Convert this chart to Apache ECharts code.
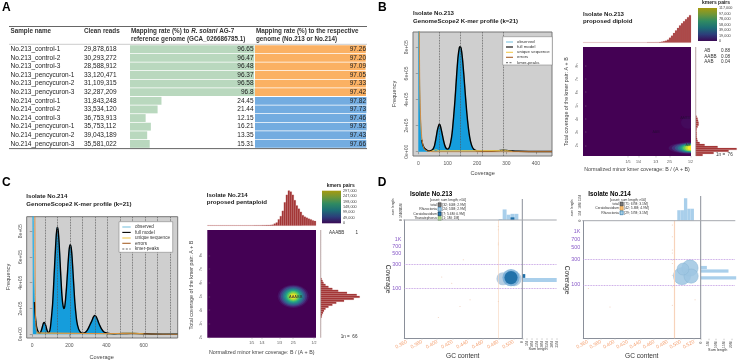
<!DOCTYPE html>
<html><head><meta charset="utf-8">
<script src="https://cdn.jsdelivr.net/npm/echarts@6/dist/echarts.min.js"></script>
<style>html,body{margin:0;background:#fff}#c{width:738px;height:362px}</style></head>
<body><div id="c"></div>
<script>
// ---------- Panel A
const sampleNames=['No.213_control-1','No.213_control-2','No.213_control-3','No.213_pencycuron-1','No.213_pencycuron-2','No.213_pencycuron-3','No.214_control-1','No.214_control-2','No.214_control-3','No.214_pencycuron-1','No.214_pencycuron-2','No.214_pencycuron-3'];
const cleanReads=['29,878,618','30,293,272','28,588,912','33,120,471','31,109,315','32,287,209','31,843,248','33,534,120','36,753,913','35,753,112','39,043,189','35,581,022'];
const rateReference=['96.65','96.47','96.48','96.37','96.58','96.8','24.45','21.44','12.15','16.21','13.35','15.31'];
const rateRespective=['97.26','97.20','97.09','97.05','97.33','97.42','97.82','97.73','97.46','97.92','97.43','97.66'];
// ---------- Panel B k-mer profile
const covB=[0,2,4,6,8,10,12,15,20,25,30,35,40,45,50,55,60,65,70,72,75,80,85,90,95,100,105,110,115,120,125,130,135,140,143,146,150,155,160,165,170,175,180,185,190,195,200,210,220,240,260,280,290,300,320,340,400,455];
const observedB=[2000000,1200000,600000,350000,220000,140000,90000,55000,30000,18000,10000,6000,6000,10000,20000,45000,100000,165000,205000,210000,200000,150000,95000,50000,25000,20000,30000,70000,140000,260000,400000,570000,720000,800000,805000,790000,720000,590000,440000,300000,190000,110000,60000,30000,16000,10000,6000,4000,3000,3000,5000,10000,12000,10000,5000,3000,1000,1000];
const covUniqueB=[40,50,60,70,280,290,300,320];
const uniqueB=[0,8000,15000,8000,9000,12000,9000,2000];
const covErrorsB=[0,3,5,8,12,16,20,30,50,100,455];
const errorsB=[3000000,1000000,500000,250000,100000,50000,20000,5000,0,0,0];
const peaksB=[71,143,218,289];
const freqTicks=[0,200000,400000,600000,800000];
const covTicksB=[0,100,200,300,400];
// ---------- Panel C k-mer profile
const covC=[0,3,6,9,12,15,20,25,30,35,40,45,50,55,60,65,70,75,80,85,90,95,100,110,120,125,130,135,140,145,150,155,160,165,170,175,180,185,190,195,200,205,210,215,220,225,230,240,250,260,270,280,290,300,310,320,330,337,345,355,365,375,385,395,405,420,440,470,500,540,600,700,784];
const observedC=[3000000,1500000,700000,400000,250000,170000,90000,45000,25000,12000,10000,15000,35000,60000,85000,92000,80000,55000,30000,15000,15000,30000,80000,240000,520000,660000,780000,830000,800000,700000,560000,420000,300000,230000,200000,215000,280000,370000,480000,590000,670000,695000,670000,590000,470000,350000,240000,100000,40000,15000,8000,10000,20000,40000,70000,100000,135000,145000,135000,100000,65000,38000,20000,12000,8000,5000,4000,5000,6000,7000,4000,1000,1000];
const covUniqueC=[20,30,40,420,470,540,600];
const uniqueC=[9000,16000,9000,4000,7000,9000,4000];
const covErrorsC=[8,12,14,16,18,22,30,40,784];
const errorsC=[3000000,1500000,900000,300000,100000,30000,10000,0,0];
const peaksC=[68,135,203,270,338,405,473,540,608,676,743];
const covTicksC=[0,200,400,600];
// ---------- Smudge plots: contour levels [minor-cov, total-cov, half-width, half-height, kmer pairs]
const smudgeB=[[0.49,3.7,0.035,0.45,3000],[0.5,1.8,0.105,0.44,6000],[0.5,1.8,0.09,0.4,16000],[0.5,1.8,0.075,0.36,30000],[0.5,1.8,0.062,0.33,45000],[0.5,1.8,0.052,0.3,60000],[0.5,1.8,0.043,0.27,75000],[0.5,1.8,0.035,0.24,90000],[0.5,1.8,0.025,0.2,105000],[0.5,1.8,0.014,0.15,117000]];
const smudgeC=[[0.4,5,0.075,0.85,15000],[0.4,5,0.067,0.77,40000],[0.4,5,0.059,0.69,75000],[0.4,5,0.051,0.61,110000],[0.4,5,0.044,0.53,145000],[0.4,5,0.037,0.45,180000],[0.4,5,0.03,0.38,215000],[0.4,5,0.023,0.3,250000],[0.4,5,0.016,0.21,280000],[0.4,5,0.009,0.12,297000]];
const colourLabelsB=[0,19000,39000,58000,78000,97000,117000];
const colourLabelsC=[0,49000,99000,148000,198000,247000,297000];
const smudgeTopB=[0.4,0.4,0.4,0.4,0.4,0.4,0.4,0.4,0.4,0.4,0.4,0.4,0.4,0.4,0.4,0.4,0.4,0.4,0.4,0.4,0.4,0.4,0.4,0.4,0.4,0.4,0.4,0.4,0.4,0.4,0.4,0.4,0.5,0.5,0.5,0.5,0.6,0.6,0.7,1,1.5,2,3,5,7,9.5,12,14.5,17,19,21,23,25,27];
const smudgeSideB=[0,0,0,0,0,0,0,0,0,0,0,0,0,0,0,0,0,0,0,0,0,0,0,0,0,0,0,0,0,0,0,0,0,0,1,2,2.5,3,3,2,1,0.8,1,1,1,1.5,2,4,9,22,41,33,18,7];
const smudgeTopC=[0.4,0.4,0.4,0.4,0.4,0.4,0.4,0.4,0.4,0.4,0.4,0.4,0.4,0.4,0.4,0.4,0.4,0.4,0.4,0.4,0.4,0.4,0.4,0.5,0.5,0.5,0.5,0.6,0.6,0.7,0.7,0.8,1,2,3,6,9,14,22,29,33,32,29,24,19,16,13,10,8.5,7.5,6.5,6,5,4.5];
const smudgeSideC=[0,0,0,0,0,0,0,0,0,0,0,0,0,0,0,0,0,0,0,0,0,0,0,0,1,2,3,5,8,12,18,27,37,40,34,24,16,12,8,5,3.5,2.5,1.5,1,0,0,0,0,0,0,0,0,0,0];
const smudgeMinorTicks=[0.2,0.25,1/3,0.4,0.5];
const smudgeMinorLabels=['1/5','1/4','1/3','2/5','1/2'];
const smudgeTotalTicks=[2,3,4,5,6,7,8];
const smudgeTotalLabels=['2n','3n','4n','5n','6n','7n','8n'];
const proportionsB=[['AB','0.88'],['AABB','0.08'],['AAB','0.04']];
const proportionsC=[['AAABB','1']];
// ---------- Panel D blob plots: [GC, coverage, length Mb]
const gcTicks213=[0.36,0.38,0.40,0.42,0.44,0.46,0.48,0.50];
const gcTicks214=[0.36,0.38,0.40,0.42,0.44,0.46,0.48,0.50,0.52];
const coverageTicks=[100,300,500,700,1000];
const rhizo213=[[0.4862,155,17],[0.5006,155,22]];
const mid213=[[0.4966,164,29]];
const cerato213=[[0.4966,164,17]];
const dots213=[[0.48,1811],[0.48,1550],[0.48,830],[0.48,765],[0.48,53],[0.4342,378],[0.4059,168],[0.419,126],[0.4298,42],[0.443,58],[0.4014,25]];
const rhizo214=[[0.5018,146,29],[0.5138,207,26],[0.5155,146,20],[0.5033,198,14]];
const dots214=[[0.4872,1339],[0.4872,804],[0.4872,451],[0.4872,396],[0.4872,292],[0.4872,253],[0.4872,152],[0.4872,92],[0.4872,41],[0.361,85],[0.3935,38],[0.5214,52]];
const topHist213=[0,0,0,0,0,0,0,0,0,0,0,0,0,0,0,0,0,0,0,0,0,0,0,0,1,12,6,7,7,0];
const topHistDark213=[0,0,0,0,0,0,0,0,0,0,0,0,0,0,0,0,0,0,0,0,0,0,0,0,0,0,0,3,0,0];
const sideHist213=[0,0,0,0,0,0,0,0,0,0,0,0,0,0,0,35,0,0,0,0,0,0,0,0,0,0,0,0,0,0];
const sideHistDark213=[0,0,0,0,0,0,0,0,0,0,0,0,0,0,3,0,0,0,0,0,0,0,0,0,0,0,0,0,0,0];
const topHist214=[0,0,0,0,0,0,0,0,0,0,0,0,0,0,0,0,0,0,0,0,0,0,0,0,0,0,0,0,7,7,15,8,8,0,0];
const sideHist214=[0,0,0,0,0,0,0,0,0,0,0,0,0,4,18,0,23,0,0,0,0,0,0,0,0,0,0,0,0,0,0,0,0,0];
const topTicks213=[0,5,10,15,20];
const sideTicks213=[0,5,10,15,20,25,30,35];
const topTicks214=[0,5,10,15];
const sideTicks214=[0,5,10,15,20];
const legendRows213=[['total','[32; 60M; 2.9M]'],['Rhizoctonia','[24; 53M; 2.9M]'],['Ceratobasidium','[7; 5.6M; 0.9M]'],['Thanatephorus','[1; 1M; 1M]']];
const legendRows214=[['total','[71; 67M; 3.1M]'],['Ceratobasidium','[42; 5.8M; 4.9M]'],['Rhizoctonia','[29; 57M; 3.1M]']];
const profileLegend=['observed','full model','unique sequence','errors','kmer-peaks'];

const FONT='"Liberation Sans",Arial,sans-serif';
const pair=(a,b)=>a.map((v,i)=>[v,b[i]]);
const viridis=['#440154','#46327e','#365c8d','#277f8e','#1fa187','#4ac16d','#a0da39','#fde725'];
const barStops=['#3a0a55','#2c3e7a','#1d6e75','#2f8a62','#6e9638','#a69a10'];

const grids=[],xAxes=[],yAxes=[],series=[],graphic=[];
function addAxes(g,x,y){const i=grids.length;grids.push(Object.assign({outerBoundsMode:'none'},g));
  const xs=[].concat(x),ys=[].concat(y);
  const xi=xAxes.length;xs.forEach(a=>xAxes.push(Object.assign({gridIndex:i},a)));
  const yi=yAxes.length;ys.forEach(a=>yAxes.push(Object.assign({gridIndex:i},a)));
  return {x:xi,y:yi};}
const hidden={show:false};
function text(t,x,y,o={}){graphic.push({type:'text',x,y,rotation:o.rot||0,z:100,style:{text:t,fill:o.color||'#222',
  font:`${o.style||''} ${o.weight||'normal'} ${o.size||6}px ${FONT}`,align:o.align||'left',verticalAlign:'middle',rich:o.rich}});}
function line(x1,y1,x2,y2,c='#555',w=.8,dash){graphic.push({type:'line',z:100,shape:{x1,y1,x2,y2},style:{stroke:c,lineWidth:w,lineDash:dash}});}
function rect(x,y,w,h,fill,stroke,lw=.6){graphic.push({type:'rect',z:99,shape:{x,y,width:w,height:h},style:{fill,stroke,lineWidth:lw}});}

// ===== Panel A =====
text('A',2,8,{size:12,weight:'bold',color:'#000'});
const catAxis=(labels)=>({type:'category',inverse:true,z:20,data:labels,axisLine:hidden,axisTick:hidden,axisLabel:{show:false}});
const tLabel={show:true,interval:0,fontFamily:FONT,fontSize:6.5,color:'#222'};
const aL=addAxes({left:130,top:44.8,width:124.6,height:103.4},{type:'value',min:0,max:96.8,show:false},
 [Object.assign(catAxis(sampleNames),{position:'left',axisLabel:Object.assign({},tLabel,{align:'left',margin:119.5})}),
  Object.assign(catAxis(cleanReads),{position:'left',axisLabel:Object.assign({},tLabel,{align:'left',margin:46})}),
  Object.assign(catAxis(rateReference),{position:'right',axisLabel:Object.assign({},tLabel,{inside:true,margin:1})})]);
series.push({type:'bar',xAxisIndex:aL.x,yAxisIndex:aL.y,silent:true,barCategoryGap:'9%',data:rateReference.map(Number),itemStyle:{color:'#b9d8be'}});
const aR=addAxes({left:255,top:44.8,width:112,height:103.4},{type:'value',min:0,max:98.3,show:false},
 Object.assign(catAxis(rateRespective),{position:'right',axisLabel:Object.assign({},tLabel,{inside:true,margin:1})}));
series.push({type:'bar',xAxisIndex:aR.x,yAxisIndex:aR.y,silent:true,barCategoryGap:'9%',data:rateRespective.map(Number),
  itemStyle:{color:p=>p.dataIndex<6?'#fbb163':'#73ace0'}});
line(9,26.5,367,26.5,'#555',.9);line(9,44.3,367,44.3,'#999',.5);line(9,148.6,367,148.6,'#555',.9);
const hb={size:6.3,weight:'bold',color:'#333'};
text('Sample name',10.5,31,hb);text('Clean reads',84,31,hb);
text('Mapping rate (%) to {i|R. solani} AG-7',131,31,Object.assign({rich:{i:{font:`italic bold 6.3px ${FONT}`,fill:'#333'}}},hb));
text('reference genome (GCA_026686785.1)',131,39.7,hb);
text('Mapping rate (%) to the respective',256,31,hb);text('genome (No.213 or No.214)',256,39.7,hb);

// ===== k-mer profile panels =====
function profile(g,xr,yr,cov,obs,covU,uni,covE,err,peaks,xTicks,bandColor){
  const tl={fontFamily:FONT,fontSize:5,color:'#555'};
  const a=addAxes(Object.assign({show:true,backgroundColor:'#cfcfcf',borderColor:'#777',borderWidth:1},g),
   {type:'value',min:xr[0],max:xr[1],splitLine:hidden,axisLine:hidden,
    axisTick:{show:true,length:2.5,lineStyle:{color:'#777',width:.6},customValues:xTicks},axisLabel:Object.assign({customValues:xTicks,margin:5},tl)},
   {type:'value',min:yr[0],max:yr[1],splitLine:hidden,axisLine:hidden,
    axisTick:{show:true,length:2.5,lineStyle:{color:'#777',width:.6},customValues:freqTicks},
    axisLabel:Object.assign({customValues:freqTicks,margin:4,rotate:90,formatter:v=>v===0?'0e+00':(v/100000)+'e+05'},tl)});
  const o={xAxisIndex:a.x,yAxisIndex:a.y,silent:true,showSymbol:false,symbol:'none',type:'line',clip:true,animation:false};
  series.push(Object.assign({},o,{data:pair(cov,obs),smooth:.25,lineStyle:{color:bandColor,width:1},areaStyle:{color:'#159ddc',opacity:1},
    markLine:{silent:true,symbol:'none',label:hidden,animation:false,lineStyle:{color:'#555',type:'dotted',width:.8},data:peaks.map(v=>({xAxis:v}))}}));
  series.push(Object.assign({},o,{data:pair(cov,obs).filter(p=>p[0]>=12),smooth:.25,lineStyle:{color:'#000',width:1.4}}));
  series.push(Object.assign({},o,{data:pair(covU,uni),lineStyle:{color:'#f1c94f',width:.9}}));
  series.push(Object.assign({},o,{data:pair(covE,err),lineStyle:{color:'#d98a3c',width:.9}}));
}
function profileKey(x,y,w,h,lx1,lx2,tx,ys,size){
  rect(x,y,w,h,'#fff','#888');
  const st=[['#7fc3df',1.1],['#000',1.1],['#f1c94f',1.1],['#a8622a',1.1],['#555',.9,[2,1.5]]];
  profileLegend.forEach((t,i)=>{line(lx1,ys[i],lx2,ys[i],st[i][0],st[i][1],st[i][2]);text(t,tx,ys[i],{size,color:'#333'});});
}
text('B',378,8,{size:12,weight:'bold',color:'#000'});
text('Isolate No.213',413,13.5,{size:6.1,weight:'bold'});text('GenomeScope2 K-mer profile (k=21)',413,21,{size:6.1,weight:'bold'});
profile({left:413,top:32,width:139,height:124},[-18,455],[-33000,917000],covB,observedB,covUniqueB,uniqueB,covErrorsB,errorsB,peaksB,covTicksB,'#5f9fa5');
profileKey(502.7,36.7,49.6,28.3,506,513,517,[42,47,52.3,57.3,62.7],4.3);
text('Frequency',394.3,94,{rot:Math.PI/2,align:'center',size:5.6,color:'#444'});
text('Coverage',482.7,173.3,{align:'center',size:5.6,color:'#444'});

text('C',2,183,{size:12,weight:'bold',color:'#000'});
text('Isolate No.214',26.3,196.7,{size:6.1,weight:'bold'});text('GenomeScope2 K-mer profile (k=21)',26.3,204,{size:6.1,weight:'bold'});
profile({left:26.7,top:216.7,width:151,height:121.3},[-30,784],[-29000,912000],covC,observedC,covUniqueC,uniqueC,covErrorsC,errorsC,peaksC,covTicksC,'#2fb5ea');
profileKey(119,221.7,53.7,30.6,122.3,130.7,135,[227,232.4,238,243.3,249],4.6);
text('Frequency',8,277,{rot:Math.PI/2,align:'center',size:5.6,color:'#444'});
text('Coverage',101.7,357.3,{align:'center',size:5.6,color:'#444'});

// ===== Smudge panels =====
const visualMaps=[];
function smudge(p){
  const tl={fontFamily:FONT,fontSize:3.6,color:'#555'};
  const a=addAxes(Object.assign({show:true,backgroundColor:'#440154',borderWidth:0},p.g),
   {type:'value',min:p.xr[0],max:p.xr[1],splitLine:hidden,axisLine:hidden,axisTick:{show:true,length:1.5,lineStyle:{color:'#888',width:.4},customValues:smudgeMinorTicks},
    axisLabel:Object.assign({customValues:smudgeMinorTicks,margin:p.xm,formatter:v=>smudgeMinorLabels[smudgeMinorTicks.findIndex(t=>Math.abs(t-v)<1e-6)]},tl)},
   {type:'value',min:p.yr[0],max:p.yr[1],splitLine:hidden,axisLine:hidden,axisTick:{show:true,length:1.5,lineStyle:{color:'#888',width:.4},customValues:smudgeTotalTicks},
    axisLabel:Object.assign({customValues:smudgeTotalTicks,margin:4,rotate:90,formatter:v=>smudgeTotalLabels[smudgeTotalTicks.indexOf(v)]},tl)});
  visualMaps.push({show:false,type:'continuous',seriesIndex:series.length,dimension:4,min:0,max:p.cmax,inRange:{color:viridis}});
  series.push({type:'custom',xAxisIndex:a.x,yAxisIndex:a.y,silent:true,clip:true,animation:false,data:p.levels,
    encode:{x:0,y:1},renderItem:(params,api)=>{const c=api.coord([api.value(0),api.value(1)]),s=api.size([api.value(2),api.value(3)]);
      return {type:'ellipse',shape:{cx:c[0],cy:c[1],rx:s[0],ry:s[1]},style:{fill:api.visual('color')}};}});
  const barStyle={color:'#a23434',borderColor:'#b86060',borderWidth:.2};
  const t=addAxes(p.top,{type:'category',data:p.topData.map((_,i)=>i),show:false},{type:'value',min:0,max:p.topMax,show:false});
  series.push({type:'bar',xAxisIndex:t.x,yAxisIndex:t.y,silent:true,barCategoryGap:0,data:p.topData,itemStyle:barStyle});
  const r=addAxes(p.side,{type:'value',min:0,max:41,show:false},{type:'category',inverse:true,data:p.sideData.map((_,i)=>i),show:false});
  series.push({type:'bar',xAxisIndex:r.x,yAxisIndex:r.y,silent:true,barCategoryGap:0,data:p.sideData,itemStyle:barStyle});
  const b=addAxes(p.bar,{type:'category',data:['k'],show:false},
   {type:'value',position:'right',min:0,max:p.cmax,splitLine:hidden,axisLine:hidden,axisTick:hidden,
    axisLabel:{customValues:p.colourLabels,margin:2,fontFamily:FONT,fontSize:3.8,color:'#444'}});
  series.push({type:'bar',xAxisIndex:b.x,yAxisIndex:b.y,silent:true,barWidth:'100%',data:[p.cmax],
    itemStyle:{color:new echarts.graphic.LinearGradient(0,1,0,0,barStops.map((c,i)=>({offset:i/(barStops.length-1),color:c})))}});
}
smudge({g:{left:583,top:47,width:108,height:109},xr:[-0.0166,0.503],yr:[1.2,9.4],xm:4,cmax:117000,levels:smudgeB,
  top:{left:583,top:12,width:108,height:30.7},topData:smudgeTopB,topMax:30,
  side:{left:695.7,top:47,width:41,height:109},sideData:smudgeSideB,
  bar:{left:698,top:8,width:19,height:33},colourLabels:colourLabelsB});
line(695.7,47,695.7,156,'#999',.5);
text('Isolate No.213',583,14,{size:6.1,weight:'bold'});text('proposed diploid',583,21,{size:6.1,weight:'bold'});
text('kmers pairs',716,2.5,{size:5,weight:'bold',align:'center'});
proportionsB.forEach((r,i)=>{const y=50.7+i*5.7;text(r[0],704.3,y,{size:4.6,color:'#333'});text(r[1],730,y,{size:4.6,align:'right',color:'#333'});});
text('1n =  76',716,155,{size:4.6,color:'#333'});
text('Normalized minor kmer coverage: B / (A + B)',637,170,{size:5.3,align:'center',color:'#444'});
text('Total coverage of the kmer pair: A + B',566.7,101.7,{size:5.3,rot:Math.PI/2,align:'center',color:'#444'});
text('AB',688,145.3,{size:3.6,align:'center',color:'#333'});text('AABB',685,118,{size:3.6,align:'center',color:'#2a0a3a'});text('AAB',656,132,{size:3.6,align:'center',color:'#2a0a3a'});

smudge({g:{left:207.3,top:230,width:108.7,height:107.7},xr:[-0.0138,0.5096],yr:[1.97,9.85],xm:3,cmax:297000,levels:smudgeC,
  top:{left:207.3,top:190,width:108.7,height:35.7},topData:smudgeTopC,topMax:33.5,
  side:{left:320.7,top:230,width:40,height:107.7},sideData:smudgeSideC,
  bar:{left:322,top:190.7,width:19,height:32.6},colourLabels:colourLabelsC});
line(320.7,230,320.7,337.7,'#999',.5);
text('Isolate No.214',206.7,195.7,{size:6.1,weight:'bold'});text('proposed pentaploid',206.7,202.7,{size:6.1,weight:'bold'});
text('kmers pairs',340.7,185.3,{size:5,weight:'bold',align:'center'});
proportionsC.forEach(r=>{text(r[0],329,233,{size:4.6,color:'#333'});text(r[1],358,233,{size:4.6,align:'right',color:'#333'});});
text('1n =  66',340.7,336.7,{size:4.6,color:'#333'});
text('Normalized minor kmer coverage: B / (A + B)',261.7,353,{size:5.3,align:'center',color:'#444'});
text('Total coverage of the kmer pair: A + B',191.7,285,{size:5.3,rot:Math.PI/2,align:'center',color:'#444'});
text('AAABB',295.7,296.7,{size:4,align:'center',color:'#333'});

// ===== Blob panels =====
const fmtCov=v=>v>=1000?(v/1000)+'K':String(v);
function blob(p){
  const m=addAxes(p.main,
   {type:'value',min:p.xr[0],max:p.xr[1],splitLine:hidden,axisLine:{show:true,onZero:false,lineStyle:{color:'#8a8f99',width:1}},
    axisTick:{show:true,length:1.5,lineStyle:{color:'#bbb',width:.4},customValues:p.gcTicks},
    axisLabel:{customValues:p.gcTicks,rotate:30,margin:3,fontFamily:FONT,fontSize:5,color:'#f4a070',formatter:v=>v.toFixed(3)}},
   {type:'log',min:p.yr[0],max:p.yr[1],splitLine:hidden,axisLine:{show:true,onZero:false,lineStyle:{color:'#8a8f99',width:1}},
    axisTick:hidden,axisLabel:{customValues:coverageTicks,margin:3,fontFamily:FONT,fontSize:5.4,color:'#8a5cc8',formatter:fmtCov}});
  const sc={type:'scatter',xAxisIndex:m.x,yAxisIndex:m.y,silent:true,clip:true,animation:false};
  const size=d=>3.2*Math.sqrt(d[2]);
  p.bubbles.forEach(b=>series.push(Object.assign({},sc,{data:b.data,symbolSize:size,itemStyle:{color:b.color,opacity:b.opacity,borderColor:b.border,borderWidth:b.border?.5:0}})));
  series.push(Object.assign({},sc,{data:p.dots,symbolSize:1,itemStyle:{color:'#e8b798',opacity:.75},
    markLine:{silent:true,symbol:'none',label:hidden,animation:false,lineStyle:{color:'#f7d3bb',type:'solid',width:p.bandWidth},data:[{xAxis:p.bandX}]}}));
  const ov=addAxes({left:p.main.left,top:p.main.top,width:p.ovWidth,height:p.main.height},{type:'value',min:0,max:1,show:false},{type:'log',min:p.yr[0],max:p.yr[1],show:false});
  series.push({type:'line',xAxisIndex:ov.x,yAxisIndex:ov.y,data:[],silent:true,
    markLine:{silent:true,symbol:'none',label:hidden,animation:false,lineStyle:{color:'#b283dc',type:'dotted',width:.8},data:[{yAxis:100},{yAxis:300}]}});
  const tt=addAxes(p.top,{type:'category',data:p.topHist.map((_,i)=>i),show:false},
   {type:'value',min:0,max:p.topMax,splitLine:hidden,axisLine:hidden,axisTick:hidden,
    axisLabel:{customValues:p.topTicks,margin:2,rotate:90,fontFamily:FONT,fontSize:3.2,color:'#555',formatter:v=>v?v+'M':'0'}});
  series.push({type:'bar',xAxisIndex:tt.x,yAxisIndex:tt.y,silent:true,barCategoryGap:0,barGap:'-100%',data:p.topHist,itemStyle:{color:'#a9cfeb'}});
  if(p.topDark)series.push({type:'bar',xAxisIndex:tt.x,yAxisIndex:tt.y,silent:true,barCategoryGap:0,barGap:'-100%',data:p.topDark,itemStyle:{color:'#1f6fa8'}});
  const ss=addAxes(p.side,{type:'value',min:0,max:p.sideMax,splitLine:hidden,axisLine:hidden,
     axisTick:{show:true,length:1.5,lineStyle:{color:'#777',width:.4},customValues:p.sideTicks},
     axisLabel:{customValues:p.sideTicks,margin:3,rotate:90,fontFamily:FONT,fontSize:3.2,color:'#555',formatter:v=>v?v+'M':'0'}},
   {type:'category',inverse:true,data:p.sideHist.map((_,i)=>i),show:false});
  series.push({type:'bar',xAxisIndex:ss.x,yAxisIndex:ss.y,silent:true,barCategoryGap:'6%',barGap:'-100%',data:p.sideHist,itemStyle:{color:'#a9cfeb'}});
  if(p.sideDark)series.push({type:'bar',xAxisIndex:ss.x,yAxisIndex:ss.y,silent:true,barCategoryGap:'6%',barGap:'-100%',data:p.sideDark,itemStyle:{color:'#1f6fa8'}});
  line(p.main.left+p.main.width,p.vTop,p.main.left+p.main.width,p.main.top+p.main.height,'#8a8f99',1);
  line(p.main.left-1,p.main.top,p.main.left+p.ovWidth,p.main.top,'#a5a8ae',1);
}
text('D',377.7,182.7,{size:12,weight:'bold',color:'#000'});
blob({main:{left:404.3,top:220,width:118,height:118.3},xr:[0.3569,0.5114],yr:[9.4,2460],gcTicks:gcTicks213,
  bubbles:[{data:rhizo213,color:'#a9c6de',opacity:.85},{data:mid213,color:'#6fa9d4',opacity:.8},{data:cerato213,color:'#1f6fa8',opacity:.95}],
  dots:dots213,bandX:0.48,bandWidth:.6,ovWidth:152.4,vTop:199,
  top:{left:404.3,top:200,width:118,height:20},topHist:topHist213,topDark:topHistDark213,topMax:22.7,topTicks:topTicks213,
  side:{left:522.3,top:217.7,width:34.4,height:120.6},sideHist:sideHist213,sideDark:sideHistDark213,sideMax:35,sideTicks:sideTicks213});
text('Isolate No.213',410,194.3,{size:6.3,weight:'bold',color:'#000'});
text('GC content',462.7,356,{size:6.6,align:'center',color:'#333'});
text('Coverage',388.3,279,{size:6.6,align:'center',rot:-Math.PI/2,color:'#333'});
text('Sum length',538,349.3,{size:3.8,align:'center',color:'#333'});
text('sum length',393,207,{size:3.4,align:'center',rot:Math.PI/2,color:'#444'});
function blobKey(rows,cols,sx,header,hx,y0,dy){
  text(header,hx,y0-dy,{size:3.4,align:'center',color:'#333'});
  rows.forEach((r,i)=>{const y=y0+i*dy;
    text(r[0],sx-1,y,{size:3.4,align:'right',color:'#333'});
    rect(sx,y-1.9,3.2,3.8,cols[i][0],cols[i][1],.6);
    text(r[1],sx+4.2,y,{size:3.4,color:'#333'});});
}
blobKey(legendRows213,[['#777','#333'],['#a6cee3','#1f6fa8'],['#1f78b4','#123'],['#b2df8a','#6a9a50']],438,'[count; sum length; n50]',448,204.7,4.6);
blob({main:{left:583.3,top:220.7,width:117.4,height:117.6},xr:[0.3534,0.5299],yr:[9.8,1615],gcTicks:gcTicks214,
  bubbles:[{data:rhizo214,color:'#9dc6e2',opacity:.85,border:'#86b3d3'}],
  dots:dots214,bandX:0.4872,bandWidth:1.2,ovWidth:152,vTop:196,
  top:{left:584,top:196,width:116.6,height:24.7},topHist:topHist214,topMax:16.5,topTicks:topTicks214,
  side:{left:700.7,top:220.7,width:35.5,height:118},sideHist:sideHist214,sideMax:23,sideTicks:sideTicks214});
text('Isolate No.214',588.3,194,{size:6.3,weight:'bold',color:'#000'});
text('GC content',641.7,356,{size:6.6,align:'center',color:'#333'});
text('Coverage',567.3,280,{size:6.6,align:'center',rot:-Math.PI/2,color:'#333'});
text('Sum length',717.7,349.7,{size:3.8,align:'center',color:'#333'});
text('sum length',572,208,{size:3.4,align:'center',rot:Math.PI/2,color:'#444'});
blobKey(legendRows214,[['#777','#333'],['#fdbf6f','#c48a3a'],['#a6cee3','#1f6fa8']],620,'[count; sum length; n50]',628,204,4.4);

const chart=echarts.init(document.getElementById('c'),null,{renderer:'canvas'});
chart.setOption({animation:false,backgroundColor:'#fff',grid:grids,xAxis:xAxes,yAxis:yAxes,series,visualMap:visualMaps,graphic:{elements:graphic}});
</script></body></html>
